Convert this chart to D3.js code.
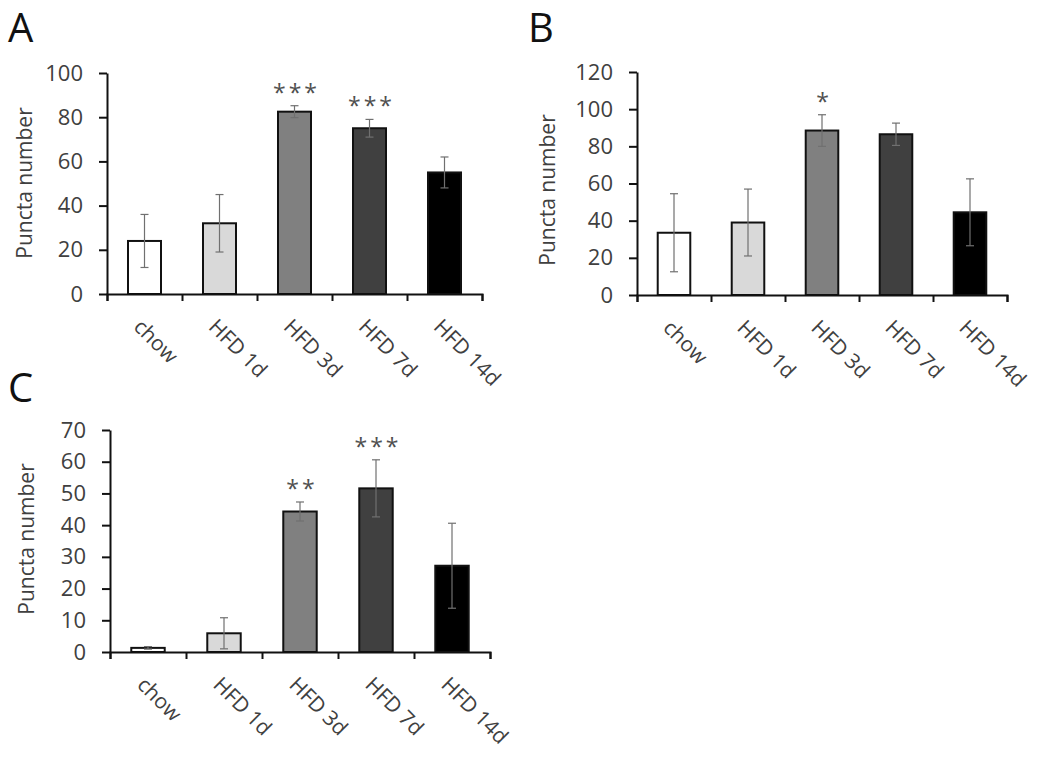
<!DOCTYPE html>
<html>
<head>
<meta charset="utf-8">
<script src="https://cdn.jsdelivr.net/npm/d3@7/dist/d3.min.js"></script>
<style>
  html, body { margin: 0; padding: 0; background: #fff; }
  svg { display: block; }
  text { font-family: "Open Sans", "Lato", sans-serif; }
</style>
</head>
<body>
<svg id="chart" width="1050" height="758"></svg>
<script>
// ---------- data ----------
const categories = ["chow", "HFD 1d", "HFD 3d", "HFD 7d", "HFD 14d"];
const fills = ["#ffffff", "#d9d9d9", "#808080", "#404040", "#000000"];

const aMeans = [24, 32, 82.5, 75, 55];
const aErrors = [12, 13, 2.7, 4, 7];
const aStars = ["", "", "***", "***", ""];
const aTicks = [0, 20, 40, 60, 80, 100];

const bMeans = [33.5, 39, 88.5, 86.5, 44.5];
const bErrors = [21, 18, 8.5, 6, 18];
const bStars = ["", "", "*", "", ""];
const bTicks = [0, 20, 40, 60, 80, 100, 120];

const cMeans = [1.3, 5.9, 44.3, 51.6, 27.2];
const cErrors = [0.4, 4.9, 3, 9, 13.4];
const cStars = ["", "", "**", "***", ""];
const cTicks = [0, 10, 20, 30, 40, 50, 60, 70];

const yLabel = "Puncta number";

// ---------- layout ----------
const panels = [
  { letter: "A", means: aMeans, errors: aErrors, stars: aStars, ticks: aTicks,
    x0: 107, x1: 482, yTop: 73, yBot: 294, letterX: 8, letterY: 42, labX: 32, labY: 183 },
  { letter: "B", means: bMeans, errors: bErrors, stars: bStars, ticks: bTicks,
    x0: 637, x1: 1007, yTop: 72, yBot: 295, letterX: 528, letterY: 42, labX: 555, labY: 190 },
  { letter: "C", means: cMeans, errors: cErrors, stars: cStars, ticks: cTicks,
    x0: 110, x1: 490, yTop: 430, yBot: 652, letterX: 8, letterY: 402, labX: 34, labY: 539 }
];

const svg = d3.select("#chart");
const textColor = "#404040";

panels.forEach(p => {
  const g = svg.append("g");
  const maxV = p.ticks[p.ticks.length - 1];
  const y = d3.scaleLinear().domain([0, maxV]).range([p.yBot, p.yTop]);
  const x = d3.scaleBand().domain(categories).range([p.x0, p.x1])
    .paddingInner(0.56).paddingOuter(0.28);
  const xb = d3.scaleLinear().domain([0, categories.length]).range([p.x0, p.x1]);

  // panel letter
  g.append("text").attr("x", p.letterX).attr("y", p.letterY)
    .attr("font-size", 40).attr("fill", "#111")
    .attr("font-family", "Liberation Sans, Arial, sans-serif").text(p.letter);

  // bars
  const rows = categories.map((c, i) => ({ c, v: p.means[i], e: p.errors[i], s: p.stars[i], f: fills[i] }));
  g.selectAll("rect.bar").data(rows).join("rect").attr("class", "bar")
    .attr("x", d => x(d.c)).attr("width", x.bandwidth())
    .attr("y", d => y(d.v)).attr("height", d => y(0) - y(d.v))
    .attr("fill", d => d.f).attr("stroke", "#111").attr("stroke-width", 2);

  // error bars
  const eg = g.selectAll("g.err").data(rows).join("g").attr("class", "err")
    .attr("stroke", "#707070").attr("stroke-width", 1.2);
  eg.append("line")
    .attr("x1", d => x(d.c) + x.bandwidth() / 2).attr("x2", d => x(d.c) + x.bandwidth() / 2)
    .attr("y1", d => y(Math.max(0, d.v - d.e))).attr("y2", d => y(d.v + d.e));
  eg.append("line")
    .attr("x1", d => x(d.c) + x.bandwidth() / 2 - 4).attr("x2", d => x(d.c) + x.bandwidth() / 2 + 4)
    .attr("y1", d => y(d.v + d.e)).attr("y2", d => y(d.v + d.e));
  eg.append("line")
    .attr("x1", d => x(d.c) + x.bandwidth() / 2 - 4).attr("x2", d => x(d.c) + x.bandwidth() / 2 + 4)
    .attr("y1", d => y(Math.max(0, d.v - d.e))).attr("y2", d => y(Math.max(0, d.v - d.e)));

  // stars
  g.selectAll("text.star").data(rows.filter(d => d.s)).join("text").attr("class", "star")
    .attr("x", d => x(d.c) + x.bandwidth() / 2 + 2)
    .attr("y", d => y(d.v + d.e) - 5)
    .attr("text-anchor", "middle").attr("font-size", 23).attr("letter-spacing", 3)
    .attr("fill", "#505050").text(d => d.s);

  // y axis
  const ya = g.append("g").attr("transform", `translate(${p.x0},0)`)
    .call(d3.axisLeft(y).tickValues(p.ticks).tickSize(8).tickSizeOuter(0).tickPadding(16));
  ya.select(".domain").attr("stroke", "#111").attr("stroke-width", 2);
  ya.selectAll(".tick line").attr("stroke", "#111").attr("stroke-width", 2);
  ya.selectAll(".tick text").attr("font-size", 22).attr("fill", textColor)
    .attr("font-family", "Open Sans, sans-serif");

  // x axis (boundary ticks)
  const xa = g.append("g").attr("transform", `translate(0,${p.yBot})`)
    .call(d3.axisBottom(xb).ticks(categories.length).tickFormat("").tickSize(7).tickSizeOuter(7));
  xa.select(".domain").attr("stroke", "#111").attr("stroke-width", 2);
  xa.selectAll(".tick line").attr("stroke", "#111").attr("stroke-width", 2);

  // x labels rotated
  g.selectAll("text.xl").data(categories).join("text").attr("class", "xl")
    .attr("transform", c => `translate(${x(c) + x.bandwidth() / 2 - 12},${p.yBot + 34}) rotate(45)`)
    .attr("font-size", 21).attr("fill", textColor).attr("text-anchor", "start")
    .text(c => c);

  // y label
  g.append("text")
    .attr("transform", `translate(${p.labX},${p.labY}) rotate(-90)`)
    .attr("text-anchor", "middle").attr("font-size", 21).attr("fill", textColor)
    .text(yLabel);
});
</script>
</body>
</html>
